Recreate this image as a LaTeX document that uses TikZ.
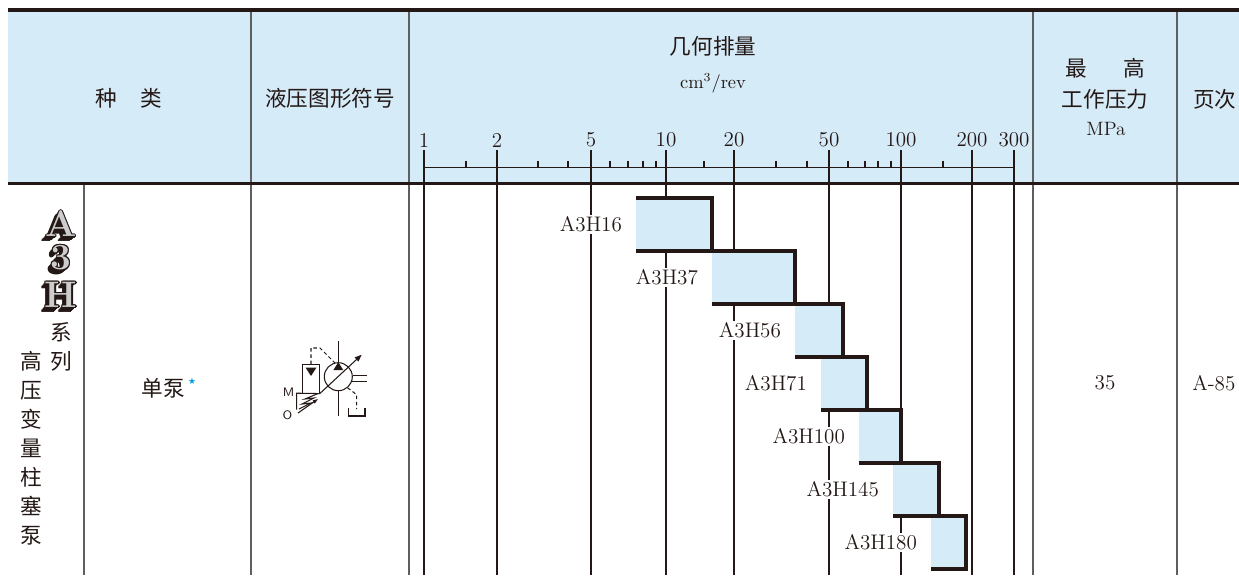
\documentclass[tikz,border=0pt]{standalone}
\usepackage{fontspec}
\usepackage{xcolor}
\usepackage{tikz}
\usetikzlibrary{arrows.meta, positioning}
\newfontfamily\cjk{Noto Sans CJK SC}
\newfontfamily\symfont{DejaVu Sans}
\definecolor{hdrblue}{RGB}{214,235,248}
\definecolor{inkblack}{RGB}{35,24,21}
\definecolor{gridgray}{RGB}{95,95,95}
\definecolor{starblue}{RGB}{0,160,233}

\begin{document}
\begin{tikzpicture}[x=0.2mm, y=-0.2mm,
			zh/.style={font=\cjk\fontsize{12.3}{16.5}\selectfont, text=inkblack, inner sep=0, align=center},
			num/.style={font=\fontsize{12}{14}\selectfont, text=inkblack, inner sep=0},
			barlab/.style={font=\fontsize{12}{13}\selectfont, text=inkblack, fill=white, inner sep=1pt, anchor=east},
			logo/.style={font=\fontsize{21}{21}\selectfont\bfseries, inner sep=0},
			grid/.style={gridgray, line width=0.6pt},
			tick/.style={inkblack, line width=0.6pt},
			stair/.style={inkblack, line width=1.9pt},
			sym/.style={inkblack, line width=0.6pt},
			pilot/.style={sym, dash pattern=on 2pt off 1.5pt},
			symlab/.style={font=\sffamily\fontsize{7}{8}\selectfont, text=inkblack, inner sep=0}
			]
			\useasboundingbox (0,0) rectangle (1239,575);
			
			% Header band
			\fill[hdrblue] (8,12) rectangle (1239,182);
			
			% Column lines
			\foreach \xc in {251, 409, 1033, 1177}
			\draw[grid] (\xc,12) -- (\xc,575);
			\draw[grid] (84,185) -- (84,575);
			
			% Log scale
			\draw[tick] (424,167.7) -- (1014,167.7);
			\foreach \v/\xc in {1/424, 2/497, 5/591, 10/666, 20/734, 50/829, 100/901, 200/972, 300/1014} {
				\draw[tick] (\xc,150) -- (\xc,575);
				\node[num] (n\v) at (\xc,140) {\v};
			}
			\foreach \xc in {466, 538, 568, 610, 628, 643, 656, 704, 776, 807, 848, 865, 878, 891, 943}
			\draw[tick] (\xc,160.7) -- (\xc,167.7);
			
			% Rules
			\draw[inkblack, line width=2.3pt] (8,10) -- (1239,10);
			\draw[inkblack, line width=2pt] (8,183.7) -- (1239,183.7);
			
			% Header texts
			\node[zh] (kind) at (129,98) {种\hspace{1.1em}类};
			\node[zh] (symhead) at (330,98) {液压图形符号};
			\node[zh] (disp) at (713,46) {几何排量};
			\node[num, font=\fontsize{10.5}{12}\selectfont] (unit) at (713,83) {cm$^3$/rev};
			\node[zh] (press) at (1105.5,68) {最\hspace{1.7em}高};
			\node[zh] (workp) at (1105,99) {工作压力};
			\node[num, font=\fontsize{11}{12}\selectfont] (mpa) at (1106,129) {MPa};
			\node[zh, anchor=west] (page) at (1193,99) {页次};
			
			% Series logo
			\foreach \ch/\yy in {A/224, 3/258, H/295} {
				\foreach \k in {1,...,10}
				\node[logo, text=inkblack] (logo\ch s\k) at ({61-\k*0.45}, {\yy+\k*0.45}) {\ch};
				\foreach \a in {0,45,...,315}
				\node[logo, text=inkblack] (logo\ch o\a) at ({61+1.3*cos(\a)}, {\yy+1.3*sin(\a)}) {\ch};
				\node[logo, text=gray!40] (logo\ch) at (61,\yy) {\ch};
			}
			\node[zh] (series) at (61,347) {系\\列};
			\node[zh] (pumpname) at (31,448) {高\\压\\变\\量\\柱\\塞\\泵};
			
			% Body texts
			\node[zh] (single) at (163,388) {单泵};
			\node[font=\symfont\fontsize{5}{5}\selectfont, text=starblue, inner sep=0] (star) at (192,381) {★};
			\node[num] (maxp) at (1105,383) {35};
			\node[num, anchor=west] (pageno) at (1192,383) {A-85};
			
			% Displacement bars
			\foreach \nm/\xl/\xr/\yt in {16/636/712/198, 37/712/795/251, 56/795/843/304, 71/821/867/357, 100/859/901/410, 145/893/939/463, 180/931/966/516} {
				\fill[hdrblue] (\xl,\yt) rectangle (\xr,\yt+53);
				\draw[stair] (\xl,\yt) -- (\xr,\yt) -- (\xr,\yt+53) -- (\xl,\yt+53);
				\node[barlab] (lab\nm) at (\xl-12,\yt+26.5) {A3H\nm};
			}
			
			% Pump symbol
			\node[circle, draw=inkblack, line width=0.6pt, minimum size=5.6mm, inner sep=0] (pump) at (338.3,376.7) {};
			\node[draw=inkblack, line width=0.6pt, minimum width=3.3mm, minimum height=5.7mm, inner sep=0] (ctrl) at (311,378.8) {};
			\coordinate (adjtip) at (361.7,354.7);
			\draw[sym] (338.3,341) -- (pump.north);
			\draw[sym] (pump.south) -- (338.3,416);
			\fill[inkblack] (pump.north) -- ++(-5,8) -- ++(10,0) -- cycle;
			\fill[inkblack] (305.5,367.5) -- (316.5,367.5) -- (311,376) -- cycle;
			\draw[sym, -{Triangle[length=4pt, width=3pt]}] (ctrl.south east) -- (adjtip);
			\draw[sym] (352.5,375.3) -- (367,375.3);
			\draw[sym] (352,381.3) -- (367,381.3);
			\draw[pilot] (ctrl.north) -- (311,348) -- (320,348) -- (335,363);
			\draw[sym] (ctrl.south east) -- (296.7,393.2) -- (296.7,409.7);
			\draw[sym] (299,409) -- (311,403) -- (302,404) -- (314,398) -- (305,399) -- (318,393.5);
			\draw[sym, -{Triangle[length=3pt, width=2pt]}] (298,413) -- (318,399);
			\draw[pilot] (pump.-50) -- (356.7,394.7) -- (356.7,409);
			\draw[sym] (348.3,408) -- (348.3,416) -- (365,416) -- (365,408);
			\node[symlab] (mport) at (288.5,392) {M};
			\node[symlab] (oport) at (287.5,415.5) {O};
			
		\end{tikzpicture}
\end{document}
